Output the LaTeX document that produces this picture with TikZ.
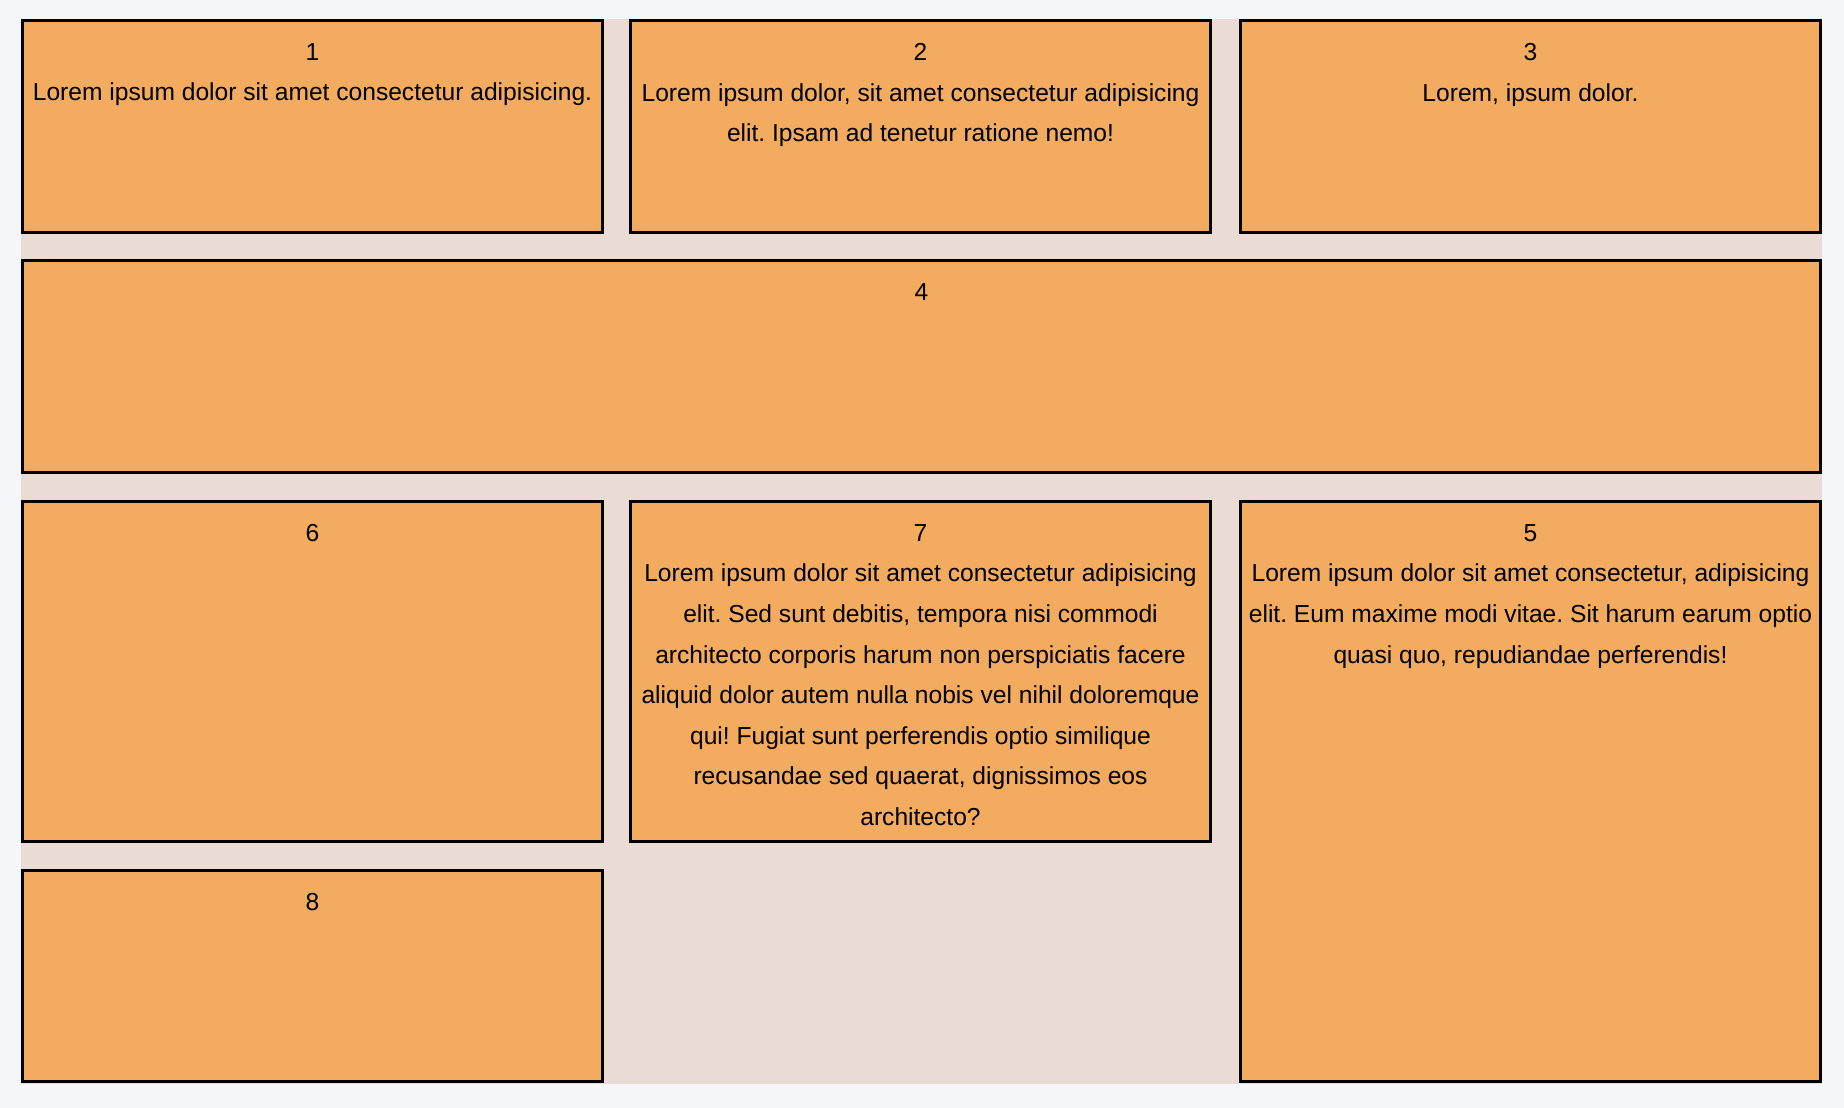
\documentclass[tikz,border=0pt]{standalone}
\usepackage{fontspec}
\setmainfont{Liberation Sans}
\usetikzlibrary{positioning}
\definecolor{pagebg}{HTML}{F5F6FA}
\definecolor{gridbg}{HTML}{EADBD4}
\definecolor{cellfill}{HTML}{F3AB5F}
\frenchspacing
\begin{document}
\begin{tikzpicture}[
        x=0.5pt, y=-0.5pt,
        cell/.style={rectangle, draw=black, line width=1.35pt, fill=cellfill, anchor=north west, outer sep=0pt, inner sep=0pt},
        celltext/.style={anchor=north, inner sep=0pt, align=center, font=\fontsize{12.3}{20.3}\selectfont},
    ]

        % Draw the page and the grid container
        \fill[pagebg] (0,0) rectangle (1844,1108);
        \fill[gridbg] (21,19) rectangle (1822,1084);

        % Draw the grid cells
        \foreach \name / \x / \y / \w / \h in {1/21/19/583/215, 2/629/19/583/215, 3/1239/19/583/215,
                4/21/259/1801/215, 6/21/500/583/343, 7/629/500/583/343, 5/1239/500/583/583, 8/21/869/583/214}
            \node[cell, minimum width={(\w-2.7)*0.5pt}, minimum height={(\h-2.7)*0.5pt}] (C-\name) at (\x+1.35,\y+1.35) {};

        % Put the text in each cell
        \node[celltext, below=11.3pt of C-1.north] (T-1) {1\\Lorem ipsum dolor sit amet consectetur adipisicing.};
        \node[celltext, below=11.3pt of C-2.north] (T-2) {2\\Lorem ipsum dolor, sit amet consectetur adipisicing\\elit. Ipsam ad tenetur ratione nemo!};
        \node[celltext, below=11.3pt of C-3.north] (T-3) {3\\Lorem, ipsum dolor.};
        \node[celltext, below=11.3pt of C-4.north] (T-4) {4};
        \node[celltext, below=11.3pt of C-6.north] (T-6) {6};
        \node[celltext, below=11.3pt of C-7.north] (T-7) {7\\Lorem ipsum dolor sit amet consectetur adipisicing\\elit. Sed sunt debitis, tempora nisi commodi\\architecto corporis harum non perspiciatis facere\\aliquid dolor autem nulla nobis vel nihil doloremque\\qui! Fugiat sunt perferendis optio similique\\recusandae sed quaerat, dignissimos eos\\architecto?};
        \node[celltext, below=11.3pt of C-5.north] (T-5) {5\\Lorem ipsum dolor sit amet consectetur, adipisicing\\elit. Eum maxime modi vitae. Sit harum earum optio\\quasi quo, repudiandae perferendis!};
        \node[celltext, below=11.3pt of C-8.north] (T-8) {8};
    \end{tikzpicture}
\end{document}
